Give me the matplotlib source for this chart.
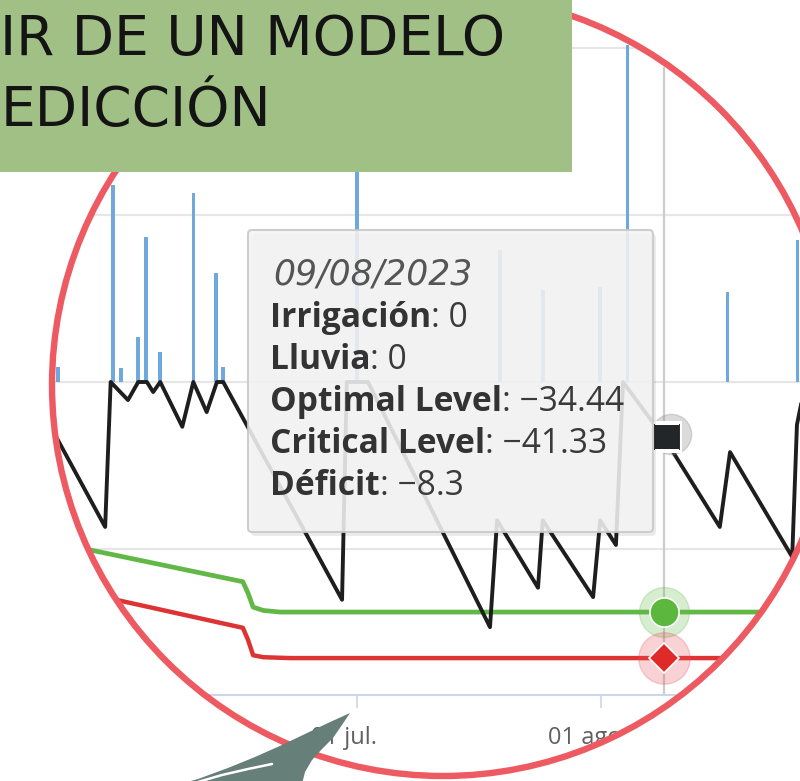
import matplotlib
matplotlib.use("Agg")
import numpy as np
import matplotlib.pyplot as plt
import matplotlib.transforms as mtransforms
from matplotlib.patches import Circle, Rectangle, FancyBboxPatch, PathPatch
from matplotlib.path import Path

# ---------------- data (days counted from 01/07/2023) ----------------
bar_days = [-38, -31, -30, -27.8, -26.8, -25, -20.8, -17.9, -17, 0, 18.2, 23.6, 30.9, 34.4, 47.1, 56]
bar_vals = [2.2, 29.5, 2.1, 6.7, 21.7, 4.5, 28.3, 16.3, 2.2, 45, 19.8, 13.8, 14.2, 50.4, 13.5, 21.3]

deficit_days = [-41, -32.0, -31.3, -29.1, -27.8, -26.7, -25.9, -25.0, -22.2, -20.8, -19.1, -17.8,
                -17.0, -1.9, -1.3, 1.4, 16.9, 17.8, 23.0, 23.6, 30.0, 30.9, 32.9, 33.8, 39.0,
                46.1, 47.4, 55.3, 55.9, 57.0]
deficit_vals = [-2.2, -21.7, 0, -2.7, 0, 0, -1.5, 0, -6.7, 0, -4.5, 0,
                0, -32.6, 0, 0, -36.7, -20.7, -30.8, -20.7, -32.2, -20.7, -24.4, 0, -8.3,
                -21.7, -10.5, -26.2, -6.4, 0]

optimal_days = [-41, -14.5, -13.85, -13.2, -11.9, -9.8, 57]
optimal_vals = [-23.4, -29.9, -31.6, -33.7, -34.2, -34.44, -34.44]

critical_days = [-41, -14.5, -13.85, -13.2, -11.9, -8.5, 57]
critical_vals = [-29.9, -36.8, -38.6, -40.9, -41.2, -41.33, -41.33]

tick_days = [0, 31]
tick_labels = ["01 jul.", "01 ago."]
grid_vals = [-25, 0, 25, 50]

sel_day = 39
sel_deficit, sel_optimal, sel_critical = -8.3, -34.44, -41.33
tooltip_date = "09/08/2023"
tooltip_labels = ["Irrigación", "Lluvia", "Optimal Level", "Critical Level", "Déficit"]
tooltip_values = ["0", "0", "−34.44", "−41.33", "−8.3"]

title_lines = ["IR DE UN MODELO", "EDICCIÓN"]

# ---------------- layout ----------------
W, H = 800, 781
X0, PXD = 357, 7.87      # pixel of day 0, pixels per day
Y0, PXU = 382, 6.68      # pixel of value 0, pixels per unit
AXB = 695                # pixel row of x axis line
CX, CY, CR = 443, 385, 391

fig = plt.figure(figsize=(W / 100, H / 100), dpi=100)
fig.patch.set_facecolor("white")

ax = fig.add_axes([0, (H - AXB) / H, 1, AXB / H])
ax.set_xlim((0 - X0) / PXD, (W - X0) / PXD)
ymin = (Y0 - AXB) / PXU
ax.set_ylim(ymin, Y0 / PXU)

ov = fig.add_axes([0, 0, 1, 1], zorder=5)
ov.set_xlim(0, W)
ov.set_ylim(H, 0)
ov.axis("off")
ov.patch.set_alpha(0)

clip = Circle((CX, CY), CR - 2, transform=ov.transData)

# chart frame
ax.set_facecolor("white")
for s in ["top", "left", "right"]:
    ax.spines[s].set_visible(False)
ax.spines["bottom"].set_color("#ccd6eb")
ax.spines["bottom"].set_linewidth(1.5)
ax.spines["bottom"].set_clip_path(clip)
ax.set_yticks(grid_vals)
ax.tick_params(axis="y", length=0, labelleft=False)
ax.grid(axis="y", color="#e6e6e6", lw=1.5)
for gl in ax.get_ygridlines():
    gl.set_clip_path(clip)
ax.set_xticks(tick_days)
ax.tick_params(axis="x", length=9.5, width=1.2, color="#ccd6eb", labelbottom=False)
for t in ax.xaxis.get_major_ticks():
    t.tick1line.set_clip_path(clip)

lab_tr = mtransforms.blended_transform_factory(ax.transData, ax.transAxes) + \
    mtransforms.ScaledTranslation(-13 / 100, -31 / 100, fig.dpi_scale_trans)
for d, lab in zip(tick_days, tick_labels):
    ax.text(d, 0, lab, transform=lab_tr, ha="center", va="top", fontsize=17,
            family="Open Sans", color="#606060", clip_path=clip)

# series
bars = ax.bar(bar_days, bar_vals, width=0.45, color="#6fa8dc", zorder=2)
for p in bars.patches:
    p.set_clip_path(clip)

ax.plot([sel_day, sel_day], [ymin, 47], color="#cccccc", lw=1.6, zorder=2.5, clip_path=clip)
ax.plot(optimal_days, optimal_vals, color="#62b846", lw=3.4, zorder=3, clip_path=clip,
        solid_joinstyle="round")
ax.plot(critical_days, critical_vals, color="#dd3333", lw=3.2, zorder=3, clip_path=clip,
        solid_joinstyle="round")
ax.plot(deficit_days, deficit_vals, color="#1e1e1e", lw=2.8, zorder=4, clip_path=clip,
        solid_joinstyle="round")

# hover markers
ax.plot(sel_day, sel_optimal, marker="o", ms=36, color="#62b846", alpha=0.25, zorder=5,
        clip_path=clip)
ax.plot(sel_day, sel_optimal, marker="o", ms=21, mfc="#5cb83c", mec="white", mew=1.2,
        zorder=6, clip_path=clip)
ax.plot(sel_day, sel_critical, marker="o", ms=37, color="#e84d5a", alpha=0.25, zorder=5,
        clip_path=clip)
ax.plot(sel_day, sel_critical, marker="D", ms=15, mfc="#e02a2a", mec="white", mew=1.2,
        zorder=6, clip_path=clip)
ax.plot(sel_day + 0.9, sel_deficit + 0.5, marker="o", ms=29, color="#888888", alpha=0.3,
        zorder=5, clip_path=clip)
ax.plot(sel_day + 0.4, sel_deficit, marker="s", ms=20, mfc="#222629", mec="white", mew=1.5,
        zorder=6, clip_path=clip)

# ---------------- tooltip ----------------
shadow = FancyBboxPatch((251, 234), 405, 302, boxstyle="round,pad=0,rounding_size=4",
                        fc="black", ec="none", alpha=0.08, zorder=1)
ov.add_patch(shadow)
tip = FancyBboxPatch((248, 230), 405, 302, boxstyle="round,pad=0,rounding_size=4",
                     fc="#f4f4f4", ec="#c8c8c8", lw=1.5, alpha=0.88, zorder=2)
ov.add_patch(tip)

fig.canvas.draw()
renderer = fig.canvas.get_renderer()


def fit(txt, target_w):
    w = txt.get_window_extent(renderer).width
    txt.set_fontsize(txt.get_fontsize() * target_w / w)
    return txt.get_fontsize()


dt = ov.text(273, 285, tooltip_date, fontsize=20, style="italic", family="DejaVu Sans",
             color="#555555", va="baseline", ha="left", zorder=3)
fit(dt, 199)

probe = ov.text(0, 0, "Optimal Level", fontsize=20, weight="bold", family="Open Sans")
fs = fit(probe, 232)
probe.remove()

inv = ov.transData.inverted()
for i, (lab, val) in enumerate(zip(tooltip_labels, tooltip_values)):
    yb = 327 + 42 * i
    t = ov.text(270, yb, lab, fontsize=fs, weight="bold", family="Open Sans",
                color="#333333", va="baseline", ha="left", zorder=3)
    ext = t.get_window_extent(renderer)
    xr = inv.transform((ext.x1, ext.y0))[0]
    ov.text(xr, yb, ": " + val, fontsize=fs, family="Open Sans", color="#3a3a3a",
            va="baseline", ha="left", zorder=3)

# ---------------- decorations ----------------
# white mask outside the lens (hole = circle, opposite winding)
theta = np.linspace(0, 2 * np.pi, 721)
circ = np.column_stack([CX + (CR - 1) * np.cos(theta), CY + (CR - 1) * np.sin(theta)])
outer = np.array([[-10, -10], [-10, H + 10], [W + 10, H + 10], [W + 10, -10], [-10, -10]])
verts = np.vstack([outer, circ])
codes = ([Path.MOVETO] + [Path.LINETO] * 3 + [Path.CLOSEPOLY] +
         [Path.MOVETO] + [Path.LINETO] * (len(circ) - 2) + [Path.CLOSEPOLY])
ov.add_patch(PathPatch(Path(verts, codes), fc="white", ec="none", zorder=5))

ring = Circle((CX, CY), CR, fill=False, ec="#ee5a62", lw=4.6, zorder=6)
ov.add_patch(ring)

box = Rectangle((0, 0), 572, 172, fc="#a1c086", ec="none", zorder=7)
ov.add_patch(box)

t1 = ov.text(505, 55, title_lines[0], ha="right", va="baseline", fontsize=40,
             family="DejaVu Sans", color="#141414", zorder=8)
tfs = fit(t1, 505)
ov.text(1, 126, title_lines[1], ha="left", va="baseline", fontsize=tfs,
        family="DejaVu Sans", color="#141414", zorder=8)

arrow_pts = [(350, 713), (328, 723), (305, 734), (282, 745), (255, 757), (228, 768),
             (198, 779), (180, 784), (302, 784), (305, 772), (312, 760), (322, 749),
             (333, 738), (342, 725), (350, 713)]
arrow = PathPatch(Path(arrow_pts, closed=True), fc="#667f78", ec="none", zorder=9)
ov.add_patch(arrow)
ov.plot([198, 222, 248, 272], [782, 775, 769, 764], color="white", lw=1.8, zorder=10,
        solid_capstyle="round")

fig.savefig("out.png", dpi=100)
